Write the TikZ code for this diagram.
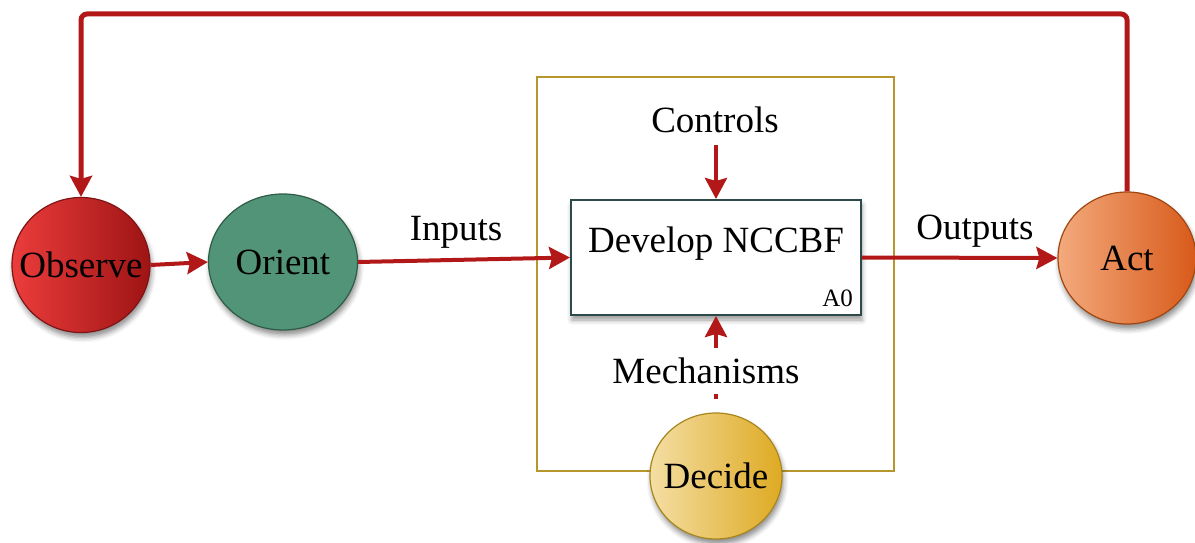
\documentclass[tikz,border=0pt]{standalone}
\usepackage{fontspec}
\setmainfont{Liberation Serif}
\usetikzlibrary{shapes.geometric,shadows.blur,arrows.meta}
\definecolor{flowred}{RGB}{178,24,24}
\definecolor{frameGold}{RGB}{184,150,46}
\definecolor{boxEdge}{RGB}{44,74,74}
\definecolor{obsL}{RGB}{236,60,60}
\definecolor{obsR}{RGB}{158,20,20}
\definecolor{obsEdge}{RGB}{128,20,20}
\definecolor{oriFill}{RGB}{82,148,119}
\definecolor{oriEdge}{RGB}{46,92,72}
\definecolor{actL}{RGB}{243,170,125}
\definecolor{actR}{RGB}{216,90,26}
\definecolor{actEdge}{RGB}{160,70,16}
\definecolor{decL}{RGB}{244,222,164}
\definecolor{decR}{RGB}{222,170,34}
\definecolor{decEdge}{RGB}{168,134,30}
\begin{document}
\begin{tikzpicture}[x=1pt,y=-1pt,
  bigfont/.style={font=\fontsize{37}{40}\selectfont},
  phase/.style={ellipse, inner sep=0pt, line width=1.2pt,
    blur shadow={shadow xshift=1.5pt, shadow yshift=-5pt, shadow blur radius=5pt, shadow opacity=45}},
  phasename/.style={label={[bigfont, inner sep=0pt]center:#1}},
  flow/.style={draw=flowred, line width=4pt, -{Stealth[length=21pt,width=22pt,inset=3pt]}},
  feedback/.style={draw=flowred, line width=5pt, rounded corners=6pt, -{Stealth[length=21pt,width=22pt,inset=3pt]}},
  tag/.style={bigfont, inner sep=3pt}
]
\useasboundingbox (0,0) rectangle (1195,543);

% frame around the activity
\draw[frameGold, line width=1.5pt] (537,77) rectangle (894,471);

% activity box
\node[draw=boxEdge, line width=2pt, fill=white, minimum width=290pt, minimum height=115pt,
  blur shadow={shadow xshift=1pt, shadow yshift=-5pt, shadow blur radius=5pt, shadow opacity=40}]
  (dev) at (716,257.5) {};
\node[bigfont, anchor=base] (devtext) at (716,252) {Develop NCCBF};
\node[font=\fontsize{25}{28}\selectfont, anchor=base east, inner sep=0pt] (code) at ([xshift=-9pt, yshift=10pt]dev.south east) {A0};

% OODA phases
\node[phase, phasename=Observe, left color=obsL, right color=obsR, draw=obsEdge, minimum width=138pt, minimum height=135pt] (obs) at (81,265) {};
\node[phase, phasename=Orient, fill=oriFill, draw=oriEdge, minimum width=149pt, minimum height=136pt] (ori) at (283,262) {};
\node[phase, phasename=Act, left color=actL, right color=actR, draw=actEdge, minimum width=138pt, minimum height=132pt] (act) at (1127,258) {};
\node[phase, phasename=Decide, left color=decL, right color=decR, draw=decEdge, minimum width=132pt, minimum height=126pt] (dec) at (716,476) {};

% labels
\node[tag] (ctrl) at (715,120) {Controls};
\node[tag] (inp) at (456,232) {Inputs};
\node[tag] (outp) at (975,231) {Outputs};

% connectors
\draw[flow] (obs.east) -- (ori.west);
\draw[flow] (ori.east) -- (dev.west);
\draw[flow] (dev.east) -- (act.west);
\draw[flow, shorten <=9pt] (ctrl.south -| dev.north) -- (dev.north);
\draw[flow, shorten <=13pt] (dec.north) -- (dev.south);
\node[bigfont, fill=white, inner xsep=4pt, inner ysep=10pt] (mech) at (706,371) {Mechanisms};

\coordinate (top) at (600,14);
\draw[feedback] (act.north) -- (act.north |- top) -| (obs.north);
\end{tikzpicture}
\end{document}
